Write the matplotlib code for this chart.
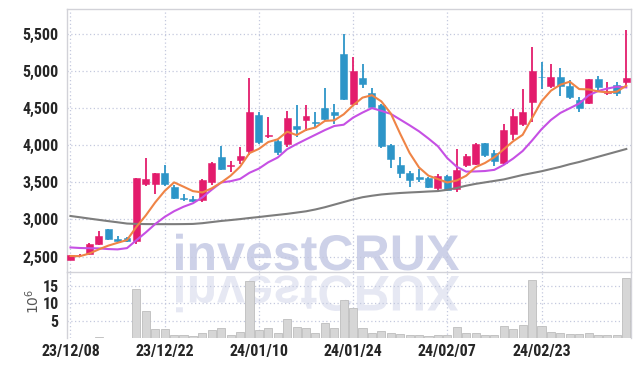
import matplotlib
matplotlib.use("Agg")
import matplotlib.pyplot as plt
import numpy as np
import pandas as pd
from matplotlib.textpath import TextPath
from matplotlib.patches import PathPatch
from matplotlib.font_manager import FontProperties
from matplotlib.transforms import Affine2D

# trading days shown (yy/mm/dd)
dates = ["23/12/08", "23/12/11", "23/12/12", "23/12/13", "23/12/14", "23/12/15",
         "23/12/18", "23/12/19", "23/12/20", "23/12/21", "23/12/22", "23/12/26",
         "23/12/27", "23/12/28", "24/01/02", "24/01/03", "24/01/04", "24/01/05",
         "24/01/08", "24/01/09", "24/01/10", "24/01/11", "24/01/12", "24/01/15",
         "24/01/16", "24/01/17", "24/01/18", "24/01/19", "24/01/22", "24/01/23",
         "24/01/24", "24/01/25", "24/01/26", "24/01/29", "24/01/30", "24/01/31",
         "24/02/01", "24/02/02", "24/02/05", "24/02/06", "24/02/07", "24/02/08",
         "24/02/13", "24/02/14", "24/02/15", "24/02/16", "24/02/19", "24/02/20",
         "24/02/21", "24/02/22", "24/02/23", "24/02/26", "24/02/27", "24/02/28",
         "24/02/29", "24/03/04", "24/03/05", "24/03/06", "24/03/07", "24/03/08"]

opens = [2460, 2515, 2535, 2670, 2870, 2740, 2745, 2712, 3478, 3478,
         3627, 3440, 3290, 3280, 3263, 3505, 3842, 3715, 3802, 3923,
         4408, 4130, 4058, 4018, 4260, 4341, 4320, 4503, 4449, 5230,
         4557, 4907, 4705, 4543, 4004, 3734, 3627, 3573, 3559, 3425,
         3586, 3405, 3734, 3748, 4031, 3896, 3761, 4152, 4287, 4584,
         4925, 4799, 4920, 4799, 4611, 4570, 4894, 4705, 4813, 4853]
highs = [2525, 2535, 2680, 2845, 2875, 2780, 2770, 3565, 3829, 3630,
         3734, 3460, 3345, 3320, 3545, 3770, 3991, 3788, 3977, 4907,
         4449, 4381, 4070, 4462, 4543, 4543, 4449, 4772, 4557, 5500,
         5190, 5096, 4772, 4550, 4020, 3842, 3654, 3681, 3575, 3613,
         3600, 3950, 3883, 4025, 4035, 3937, 4287, 4489, 4759, 5325,
         5123, 5096, 5042, 4880, 4651, 4900, 4934, 4853, 4853, 5554]
lows = [2455, 2505, 2525, 2650, 2730, 2700, 2700, 2670, 3450, 3340,
        3450, 3270, 3245, 3230, 3230, 3460, 3670, 3640, 3745, 3869,
        4018, 4098, 3870, 3977, 4112, 4193, 4247, 4328, 4290, 4610,
        4530, 4772, 4505, 3964, 3694, 3559, 3438, 3505, 3420, 3398,
        3385, 3371, 3707, 3740, 3842, 3721, 3750, 4071, 4260, 4314,
        4759, 4772, 4664, 4624, 4449, 4560, 4718, 4678, 4664, 4772]
closes = [2520, 2525, 2670, 2778, 2740, 2715, 2712, 3560, 3550, 3620,
          3480, 3290, 3270, 3250, 3530, 3760, 3681, 3728, 3856, 4449,
          4044, 4145, 3910, 4368, 4220, 4395, 4305, 4354, 4408, 4624,
          5001, 4826, 4516, 3991, 3815, 3627, 3532, 3540, 3438, 3586,
          3398, 3667, 3856, 4018, 3869, 3788, 4206, 4395, 4449, 5001,
          4915, 4920, 4799, 4651, 4503, 4894, 4786, 4732, 4700, 4907]
# volume, millions of shares
volumes = [0.05, 0.05, 0.05, 0.3, 0.05, 0.05, 0.05, 14.1, 7.8, 2.6,
           2.6, 0.9, 0.9, 0.6, 1.4, 2.3, 2.9, 0.9, 1.7, 16.4,
           2.3, 2.9, 1.4, 5.5, 3.2, 2.9, 1.4, 4.3, 2.9, 11.0,
           8.6, 2.9, 1.4, 2.0, 1.4, 1.2, 0.9, 0.8, 0.6, 0.8,
           0.8, 3.1, 1.4, 1.4, 0.8, 0.8, 3.4, 2.6, 3.7, 16.7,
           3.4, 1.7, 1.4, 1.2, 1.2, 1.4, 0.8, 0.8, 0.8, 17.3]
# closes before the window (needed for the 5/10 day averages)
prior_closes = [2600, 2700, 2800, 2830, 2760, 2540, 2490, 2500, 2490]
# long moving average
ma_long = [3047, 3030, 3012, 2995, 2978, 2962, 2945, 2940, 2938, 2937,
           2937, 2937, 2938, 2940, 2950, 2965, 2980, 2992, 3005, 3020,
           3033, 3048, 3062, 3076, 3093, 3110, 3135, 3165, 3200, 3235,
           3270, 3300, 3320, 3337, 3348, 3357, 3364, 3370, 3377, 3383,
           3400, 3425, 3455, 3480, 3500, 3520, 3540, 3570, 3600, 3625,
           3650, 3680, 3710, 3745, 3775, 3810, 3845, 3880, 3915, 3950]

UP = "#e31c6c"
DOWN = "#2d95c8"
GRID = "#c4c9de"
SPINE = "#d2d2d8"
TXT = "#262626"
tick_font = FontProperties(family=["Roboto Condensed", "Liberation Sans Narrow", "Roboto"],
                           stretch="condensed", weight="bold", size=11.5)

n = len(closes)
x = np.arange(n)
o = np.array(opens); c = np.array(closes)
up = c >= o
colors = np.where(up, UP, DOWN)

s = pd.Series(prior_closes + closes, dtype=float)
ma5 = s.rolling(5).mean().iloc[len(prior_closes):].values
ma10 = s.rolling(10).mean().iloc[len(prior_closes):].values

fig = plt.figure(figsize=(6.39, 3.66), dpi=100)
L, R = 67 / 639, 631 / 639
ax = fig.add_axes([L, 1 - 272 / 366, R - L, (272 - 9.3) / 366])
axv = fig.add_axes([L, 1 - 338 / 366, R - L, (338 - 272) / 366], sharex=ax)
for a in (ax, axv):
    a.set_facecolor("none")

# candles
ax.vlines(x, lows, highs, color=colors, lw=1.3, zorder=2)
body = np.maximum(np.abs(c - o), 12)
ax.bar(x, body, bottom=np.minimum(o, c), width=0.74, color=colors,
       edgecolor=colors, linewidth=0.4, zorder=3)
ax.plot(x, ma_long, color="#7d7d7d", lw=1.5, zorder=4)
ax.plot(x, ma10, color="#c650e4", lw=1.5, zorder=4)
ax.plot(x, ma5, color="#ef8446", lw=1.5, zorder=5)

ax.set_ylim(2292, 5833)
ax.set_xlim(-0.37, 59.5)
ax.set_yticks([2500, 3000, 3500, 4000, 4500, 5000, 5500])
ax.set_yticklabels([f"{v:,}" for v in [2500, 3000, 3500, 4000, 4500, 5000, 5500]])

# volume
axv.bar(x, volumes, width=0.86, color="#d6d6d6", edgecolor="#bdbdbd", linewidth=0.6, zorder=2)
axv.set_ylim(0, 19.04)
axv.set_yticks([5, 10, 15])
axv.set_yticklabels(["5", "10", "15"])
axv.set_ylabel("$10^6$", color="#555555", fontsize=10, rotation=90)
axv.yaxis.set_label_coords(-0.045, 0.56)

tick_pos = list(range(0, n, 10))
axv.set_xticks(tick_pos)
axv.set_xticklabels([dates[i] for i in tick_pos])

for a in (ax, axv):
    a.grid(True, color=GRID, linestyle=(0, (1, 2)), linewidth=0.9, zorder=0)
    a.set_axisbelow(True)
    a.tick_params(length=0, colors=TXT)
    for lab in a.get_yticklabels() + a.get_xticklabels():
        lab.set_fontproperties(tick_font)
    for sp in a.spines.values():
        sp.set_color(SPINE)
        sp.set_linewidth(1.0)
ax.tick_params(axis="y", pad=6)
axv.tick_params(axis="y", pad=6)
axv.tick_params(axis="x", pad=4)
ax.tick_params(axis="x", labelbottom=False)
axv.spines["bottom"].set_visible(False)
axv.spines["top"].set_visible(False)

# watermark with reflection
tp = TextPath((0, 0), "investCRUX", size=100,
              prop=FontProperties(family="Liberation Sans", weight="bold"))
ext = tp.get_extents()
k = 283 / ext.width
main_tr = Affine2D().translate(-ext.x0, 0).scale(k).translate(176, 366 - 270)
refl_tr = Affine2D().translate(-ext.x0, 0).scale(k, -k).translate(176, 366 - 276)
fig.add_artist(PathPatch(tp, transform=main_tr, facecolor="#cdd1e8", edgecolor="none", zorder=-1))
fig.add_artist(PathPatch(tp, transform=refl_tr, facecolor="#e6e8f3", edgecolor="none", zorder=-1))

fig.savefig("out.png", dpi=100)
plt.close(fig)
